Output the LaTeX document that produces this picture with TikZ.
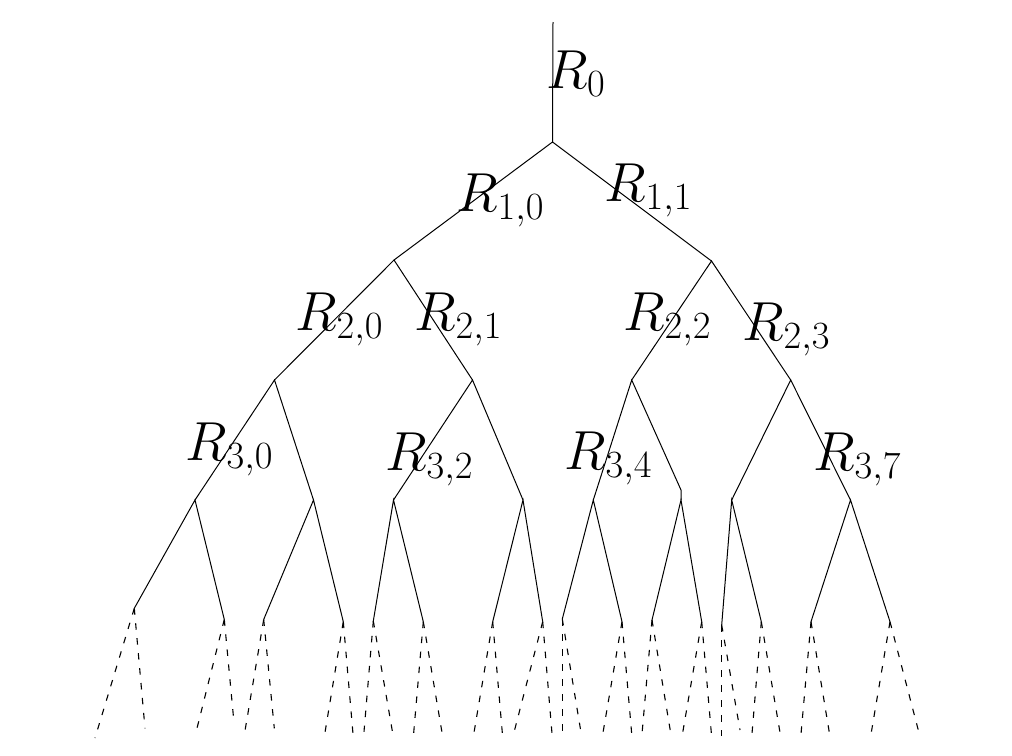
\documentclass[tikz,border=0pt]{standalone}
\usepackage{fix-cm}
\begin{document}
\begin{tikzpicture}[x=1pt,y=-1pt,
  edge/.style={line width=1pt},
  dedge/.style={line width=1.1pt,dash pattern=on 6.5pt off 8.5pt},
  lab/.style={anchor=base west,inner sep=0pt,font=\fontsize{55}{60}\selectfont}]
\useasboundingbox (0,0) rectangle (1012,755);
% skeleton coordinates
\coordinate (top) at (553,22);
\coordinate (r) at (552.5,142);
\coordinate (a) at (394,260);
\coordinate (b) at (711.5,261);
\coordinate (aa) at (274.5,380);
\coordinate (ab) at (472.5,380);
\coordinate (ba) at (631.7,380);
\coordinate (bb) at (790.7,380);
\coordinate (aaa) at (195,500);
\coordinate (aab) at (313.5,500);
\coordinate (aba) at (393.5,500);
\coordinate (abb) at (523,500);
\coordinate (baa) at (593.3,500);
\coordinate (babt) at (681,490);
\coordinate (bab) at (681,500);
\coordinate (bba) at (731.7,500);
\coordinate (bbb) at (850.5,500);
% leaves
\coordinate (L1) at (134.3,608.3);
\coordinate (L2) at (224.3,619.5);
\coordinate (L3) at (263.7,619.5);
\coordinate (L4) at (343.3,621.7);
\coordinate (L5) at (373.3,621);
\coordinate (L6) at (423.3,621.7);
\coordinate (L7) at (492.7,621.7);
\coordinate (L8) at (542.7,621.7);
\coordinate (L9) at (562.3,619);
\coordinate (L10) at (622,621.7);
\coordinate (L11) at (652,620);
\coordinate (L12) at (701.7,621.7);
\coordinate (L13) at (721.7,625);
\coordinate (L14) at (761.3,621.7);
\coordinate (L15) at (811,621.7);
\coordinate (L16) at (890,621.7);
% dashed ends
\coordinate (E1a) at (95,738);     \coordinate (E1b) at (145,728.3);
\coordinate (E2a) at (195.3,735);  \coordinate (E2b) at (234,722.7);
\coordinate (E3a) at (244,736.7);  \coordinate (E3b) at (274.3,728.3);
\coordinate (E4a) at (324.3,736.7);\coordinate (E4b) at (353.3,737.3);
\coordinate (E5a) at (364,731.7);  \coordinate (E5b) at (393.3,736.7);
\coordinate (E6a) at (413.3,737.3);\coordinate (E6b) at (442.7,736.7);
\coordinate (E7a) at (473.3,736.7);\coordinate (E7b) at (502.7,737.3);
\coordinate (E8a) at (513.3,735);  \coordinate (E8b) at (552.3,737.3);
\coordinate (E9a) at (562.3,737.3);\coordinate (E9b) at (581.7,736.7);
\coordinate (E10a) at (602.3,736.7);\coordinate (E10b) at (632,737.3);
\coordinate (E11a) at (641.7,737.3);\coordinate (E11b) at (671.3,736.7);
\coordinate (E12a) at (682,736.7); \coordinate (E12b) at (711.7,737.3);
\coordinate (E13a) at (721.7,736);\coordinate (E13b) at (740,730);
\coordinate (E14a) at (751.7,737.3);\coordinate (E14b) at (780.7,736.7);
\coordinate (E15a) at (800.7,737.3);\coordinate (E15b) at (830,736.7);
\coordinate (E16a) at (870.7,736); \coordinate (E16b) at (919.3,734);
% solid edges
\draw[edge] (top) -- (r);
\draw[edge] (a) -- (r) -- (b);
\draw[edge] (aa) -- (a) -- (ab);
\draw[edge] (ba) -- (b) -- (bb);
\draw[edge] (aaa) -- (aa) -- (aab);
\draw[edge] (aba) -- (ab) -- (abb);
\draw[edge] (baa) -- (ba) -- (babt) -- (bab);
\draw[edge] (bba) -- (bb) -- (bbb);
\draw[edge] (L1) -- (aaa) -- (L2);
\draw[edge] (L3) -- (aab) -- (L4);
\draw[edge] (L5) -- (aba) -- (L6);
\draw[edge] (L7) -- (abb) -- (L8);
\draw[edge] (L9) -- (baa) -- (L10);
\draw[edge] (L11) -- (bab) -- (L12);
\draw[edge] (L13) -- (bba) -- (L14);
\draw[edge] (L15) -- (bbb) -- (L16);
% dashed continuations
\foreach \i in {1,...,16}{
  \draw[dedge] (L\i) -- (E\i a);
  \draw[dedge] (L\i) -- (E\i b);
}
% labels
\node[lab] (l0) at (546,88) {$R_0$};
\node[lab] (l10) at (456.5,211.7) {$R_{1,0}$};
\node[lab] (l11) at (604.5,201.7) {$R_{1,1}$};
\node[lab] (l20) at (295.5,330.7) {$R_{2,0}$};
\node[lab] (l21) at (414.5,330.7) {$R_{2,1}$};
\node[lab] (l22) at (623.5,330.7) {$R_{2,2}$};
\node[lab] (l23) at (742.5,340.7) {$R_{2,3}$};
\node[lab] (l30) at (185.5,460) {$R_{3,0}$};
\node[lab] (l32) at (385.5,470) {$R_{3,2}$};
\node[lab] (l34) at (564.5,469.3) {$R_{3,4}$};
\node[lab] (l37) at (813.5,470) {$R_{3,7}$};
\end{tikzpicture}
\end{document}
